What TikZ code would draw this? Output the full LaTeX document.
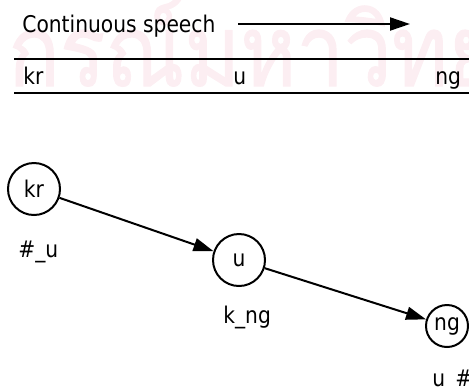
\documentclass[tikz,border=0pt]{standalone}
\usepackage{fontspec}
\setmainfont{DejaVu Sans}[FakeStretch=0.88]
\newfontfamily\thaifont[Script=Thai, FakeStretch=0.85, FakeBold=1]{Loma}
\usetikzlibrary{arrows.meta}

\definecolor{wmpink}{RGB}{252,238,242}

\begin{document}
\begin{tikzpicture}[x=0.5pt, y=-0.5pt,
    font=\fontsize{11.5}{14}\selectfont,
    phone/.style={draw, circle, line width=1pt, minimum size=26pt, inner sep=0pt},
    lbl/.style={anchor=base west, inner sep=0pt},
    link/.style={line width=1pt, -{Triangle[length=10pt, width=6.5pt]}},
    rule/.style={line width=1pt}]

  \useasboundingbox (0,0) rectangle (469,387);

  % faint stamp behind everything
  \node[lbl, text=wmpink, font=\thaifont\fontsize{50}{56}\selectfont] (stamp) at (8,86) {กรณ์มหาวิทย};

  % direction of the speech
  \node[lbl] (title) at (22,32) {Continuous speech};
  \coordinate (dir0) at (238,24);
  \coordinate (dir1) at (410,24);
  \draw[link] (dir0) -- (dir1);

  % segment strip
  \draw[rule] (14,59) -- (469,59);
  \draw[rule] (14,93) -- (469,93);
  \foreach \x/\t in {23/kr, 233/u, 435/ng} {
      \node[lbl] (seg-\t) at (\x,84) {\t};
  }

  % phone states
  \node[phone] (kr) at (34,189) {kr};
  \node[phone] (u) at (239,260) {u};
  \node[phone, minimum size=21pt] (ng) at (447,326) {ng};

  \draw[link] (kr) -- (u);
  \draw[link] (u) -- (ng);

  % left/right contexts
  \node[lbl] (ctx-kr) at (18,257) {\#\_u};
  \node[lbl] (ctx-u) at (223,323) {k\_ng};
  \node[lbl] (ctx-ng) at (432,386) {u\_\#};

\end{tikzpicture}
\end{document}
